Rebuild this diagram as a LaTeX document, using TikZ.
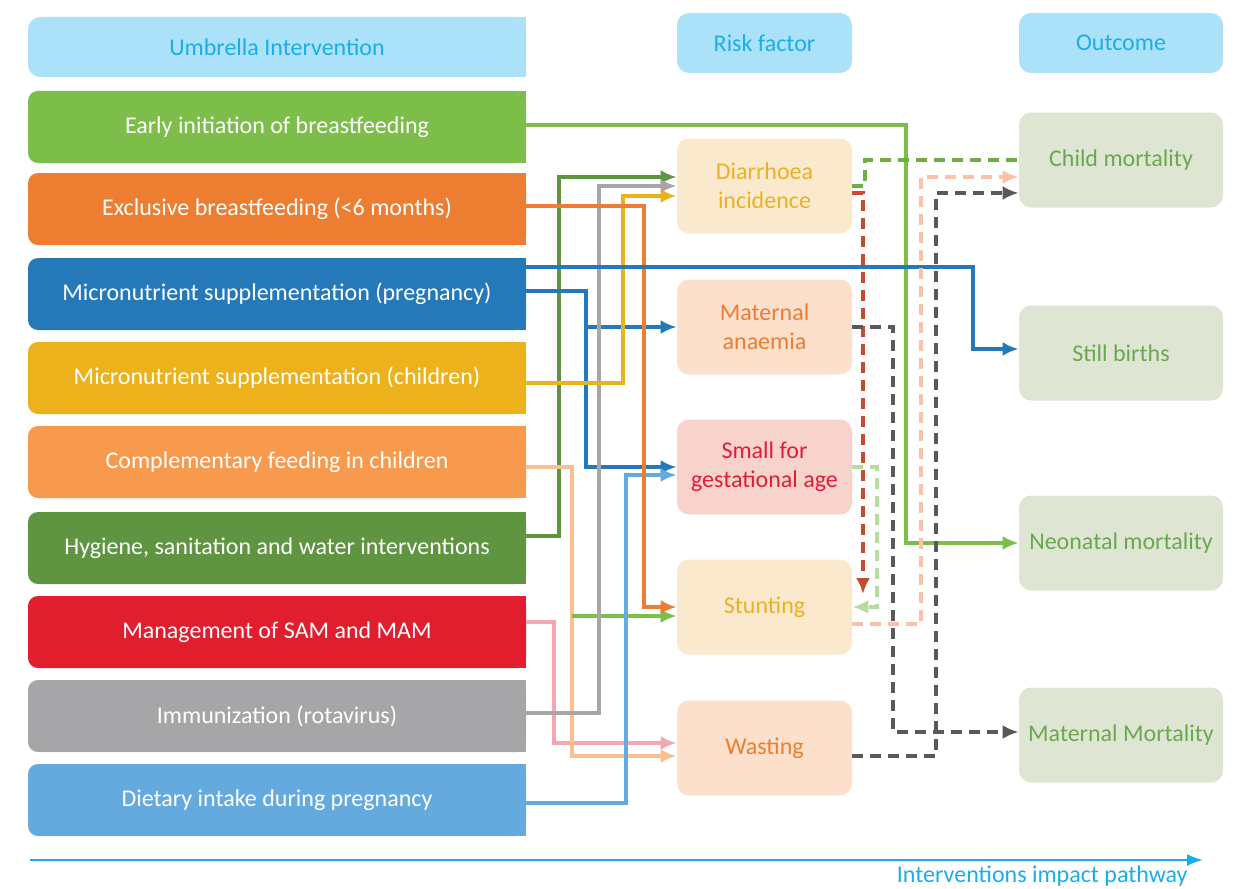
\documentclass[tikz,border=0pt]{standalone}
\usepackage{fontspec}
\setmainfont{Carlito}
\usepackage{xcolor}
\usepackage{tikz}
\usetikzlibrary{calc}
\usetikzlibrary{arrows.meta}
\usetikzlibrary{positioning}

% box and line colours
\definecolor{hdrfill}{HTML}{ACE1FA}
\definecolor{hdrtext}{HTML}{1AAEE8}
\definecolor{cEIB}{HTML}{7DBD4A}
\definecolor{cEBF}{HTML}{ED7D31}
\definecolor{cMSP}{HTML}{2579B9}
\definecolor{cMSC}{HTML}{EDB21B}
\definecolor{cCF}{HTML}{F79A4E}
\definecolor{cWASH}{HTML}{5F9440}
\definecolor{cSAM}{HTML}{E01E2D}
\definecolor{cIMM}{HTML}{A6A6A8}
\definecolor{cDIP}{HTML}{65AADF}
\definecolor{lCF}{HTML}{FCBF8F}
\definecolor{lSAM}{HTML}{F4A7B2}
\definecolor{fCream}{HTML}{FBE9CD}
\definecolor{fPeach}{HTML}{FDE0CB}
\definecolor{fPink}{HTML}{F8D3CB}
\definecolor{tGold}{HTML}{E9B124}
\definecolor{tOrange}{HTML}{ED7D31}
\definecolor{tRed}{HTML}{E21D3A}
\definecolor{fOut}{HTML}{DEE6D3}
\definecolor{tOut}{HTML}{6AA84F}
\definecolor{dGreen}{HTML}{6FAD47}
\definecolor{dRed}{HTML}{C84A2F}
\definecolor{dDark}{HTML}{595959}
\definecolor{dLight}{HTML}{B7DD9E}
\definecolor{dSalmon}{HTML}{FBC1AA}

\tikzset{
  ibox/.style={rectangle, rounded corners=5pt, minimum width=249pt, minimum height=36pt, inner sep=0pt, text=white},
  rbox/.style={rectangle, rounded corners=6pt, minimum width=87.5pt, minimum height=47.5pt, inner sep=0pt, align=center},
  obox/.style={rectangle, rounded corners=6pt, minimum width=102pt, minimum height=47.5pt, inner sep=0pt, fill=fOut, text=tOut},
  hbox/.style={rectangle, rounded corners=6pt, minimum height=30pt, inner sep=0pt, fill=hdrfill, text=hdrtext},
  arr/.style={-{Latex[length=8pt,width=7pt]}, line width=1.8pt},
  dsh/.style={line width=1.8pt, dash pattern=on 5.5pt off 3.5pt},
}

\begin{document}
\begin{tikzpicture}[x=0.5pt, y=-0.5pt, every node/.style={font=\fontsize{12}{14.5}\selectfont}]
\useasboundingbox (0,0) rectangle (1240,888);

% headers
\node [hbox, minimum width=249pt] (UI) at (277,47) {Umbrella Intervention};
\node [hbox, minimum width=87.5pt] (RF) at (764.5,43) {Risk factor};
\node [hbox, minimum width=102pt] (OC) at (1121,43) {Outcome};

% interventions
\node [ibox, fill=cEIB] (EIB) at (277,127) {Early initiation of breastfeeding};
\node [ibox, fill=cEBF] (EBF) at (277,209) {Exclusive breastfeeding (<6 months)};
\node [ibox, fill=cMSP] (MSP) at (277,294) {Micronutrient supplementation (pregnancy)};
\node [ibox, fill=cMSC] (MSC) at (277,378) {Micronutrient supplementation (children)};
\node [ibox, fill=cCF] (CF) at (277,462) {Complementary feeding in children};
\node [ibox, fill=cWASH] (WASH) at (277,548) {Hygiene, sanitation and water interventions};
\node [ibox, fill=cSAM] (SAM) at (277,632) {Management of SAM and MAM};
\node [ibox, fill=cIMM] (IMM) at (277,716) {Immunization (rotavirus)};
\node [ibox, fill=cDIP] (DIP) at (277,800) {Dietary intake during pregnancy};

% square off the right side of the left column
\foreach \n/\c in {UI/hdrfill, EIB/cEIB, EBF/cEBF, MSP/cMSP, MSC/cMSC, CF/cCF, WASH/cWASH, SAM/cSAM, IMM/cIMM, DIP/cDIP}
  \fill [\c] ([xshift=-7pt]\n.north east) rectangle (\n.south east);

% risk factors
\node [rbox, fill=fCream, text=tGold] (DIA) at (764.5,186) {Diarrhoea\\incidence};
\node [rbox, fill=fPeach, text=tOrange] (ANA) at (764.5,327) {Maternal\\anaemia};
\node [rbox, fill=fPink, text=tRed] (SGA) at (764.5,467) {Small for\\gestational age};
\node [rbox, fill=fCream, text=tGold] (STU) at (764.5,607) {Stunting};
\node [rbox, fill=fPeach, text=tOrange] (WAS) at (764.5,748) {Wasting};

% outcomes
\node [obox] (CM) at (1121,160) {Child mortality};
\node [obox] (SB) at (1121,353) {Still births};
\node [obox] (NM) at (1121,543) {Neonatal mortality};
\node [obox] (MM) at (1121,735) {Maternal Mortality};

% interventions -> risk factors
\draw [arr, cWASH] ($(WASH.east)+(0,-12)$) -| (559,177) -- ($(DIA.west)+(0,-9)$);
\draw [arr, lSAM] ($(SAM.east)+(0,-10)$) -| (554,743) -- ($(WAS.west)+(0,-5)$);
\draw [arr, lCF] ($(CF.east)+(0,5)$) -| (572,756) -- ($(WAS.west)+(0,8)$);
\coordinate (CFS) at (572,616);
\draw [arr, cEIB] (CFS) -- ($(STU.west)+(0,9)$);
\draw [arr, cMSP] ($(MSP.east)+(0,-3)$) -| (586,467) -- (SGA.west);
\draw [arr, cMSP] ($(MSP.east)+(0,-3)$) -| (586,327) -- (ANA.west);
\draw [arr, cIMM] ($(IMM.east)+(0,-3)$) -| (599,186) -- (DIA.west);
\draw [arr, cMSC] ($(MSC.east)+(0,5)$) -| (623,196) -- ($(DIA.west)+(0,10)$);
\draw [arr, cDIP] ($(DIP.east)+(0,3)$) -| (626,475) -- ($(SGA.west)+(0,8)$);
\draw [arr, cEBF] ($(EBF.east)+(0,-3)$) -| (644,607) -- (STU.west);

% interventions -> outcomes
\draw [arr, cEIB] ($(EIB.east)+(0,-2)$) -| (906,543) -- (NM.west);
\draw [arr, cMSP] ($(MSP.east)+(0,-27)$) -| (973,349) -- ($(SB.west)+(0,-4)$);

% risk factors -> outcomes
\draw [dsh, dGreen] (DIA.east) -| (865,160) -- (CM.west);
\coordinate (DST) at (863,594);
\draw [arr, dsh, dRed] ($(DIA.east)+(0,7)$) -| (DST);
\draw [arr, dsh, dDark] (ANA.east) -| (893,732) -- ($(MM.west)+(0,-3)$);
\draw [arr, dsh, dLight] (SGA.east) -| (877,607) -- (STU.east);
\draw [arr, dsh, dSalmon] ($(STU.east)+(0,17)$) -| (921,177) -- ($(CM.west)+(0,17)$);
\draw [arr, dsh, dDark] ($(WAS.east)+(0,8)$) -| (936,193) -- ($(CM.west)+(0,33)$);

% pathway arrow
\coordinate (PS) at (30,860);
\coordinate (PE) at (1203,860);
\draw [-{Latex[length=8pt,width=6pt]}, hdrtext, line width=1pt] (PS) -- (PE);
\node [text=hdrtext, anchor=east, inner sep=0pt] (IIP) at (1188,876) {Interventions impact pathway};
\end{tikzpicture}
\end{document}
